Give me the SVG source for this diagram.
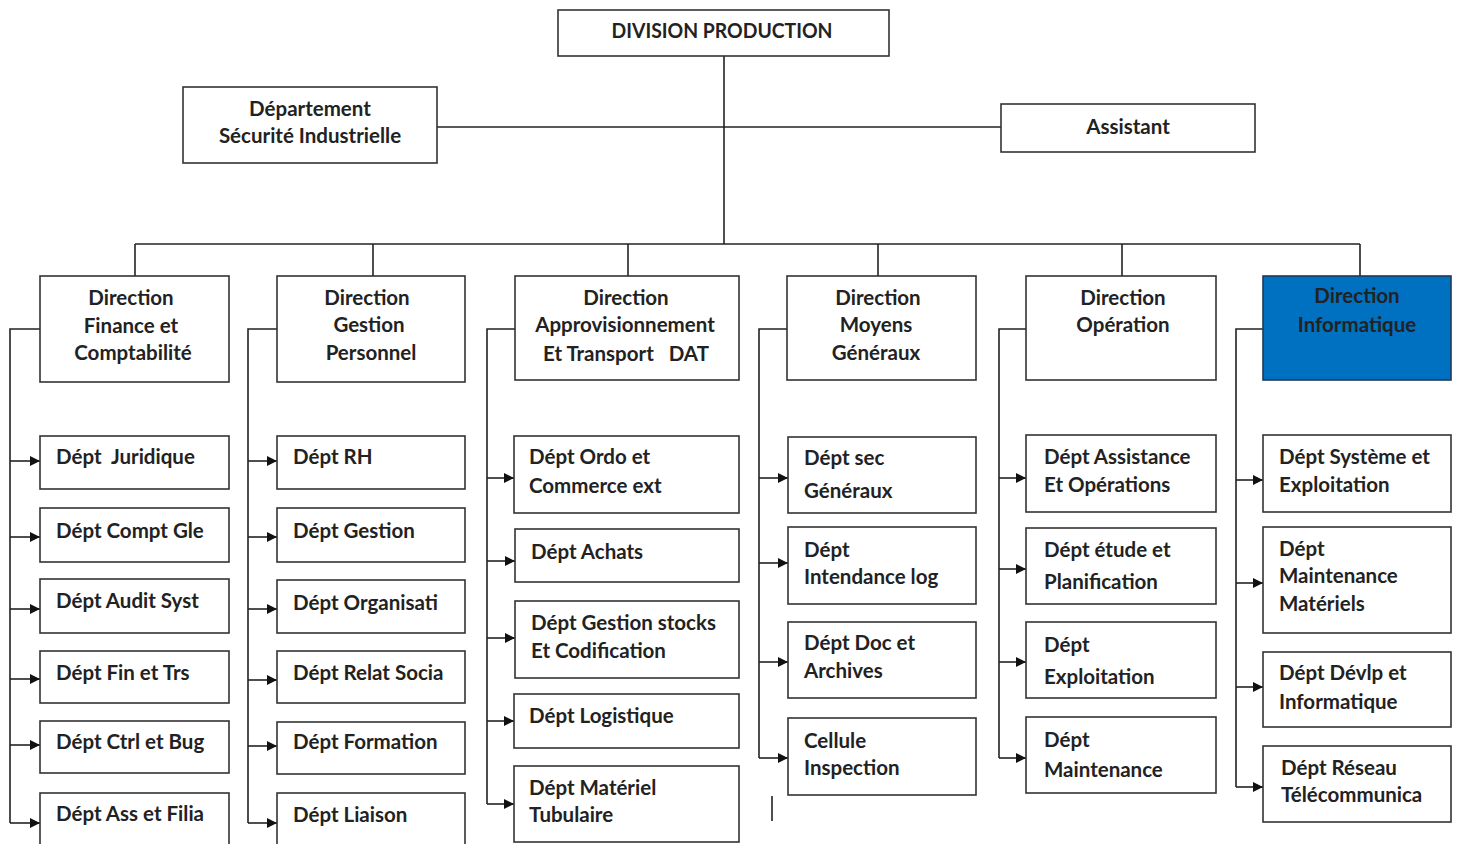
<svg xmlns="http://www.w3.org/2000/svg" width="1461" height="844" viewBox="0 0 1461 844">
  <style>
    .box { fill: #ffffff; stroke: #333333; stroke-width: 1.6; }
    .blue { fill: #0070c0; stroke: #1f3a5a; stroke-width: 1.6; }
    .ln { fill: none; stroke: #222222; stroke-width: 1.6; }
    .arr { fill: none; stroke: #222222; stroke-width: 1.6; marker-end: url(#tip); }
    text { font-family: Lato, "Liberation Sans", sans-serif; font-weight: bold; font-size: 20.5px; fill: #222222; white-space: pre; }
    .c { text-anchor: middle; }
  </style>
  <defs>
    <marker id="tip" viewBox="0 0 10 10" refX="10" refY="5" markerWidth="11" markerHeight="10" markerUnits="userSpaceOnUse" orient="auto">
      <path d="M0,0 L10,5 L0,10 Z" fill="#111111"/>
    </marker>
  </defs>

  <!-- connectors -->
  <g id="connectors">
    <line class="ln" x1="724" y1="56" x2="724" y2="244"/>
    <line class="ln" x1="437" y1="127" x2="1001" y2="127"/>
    <line class="ln" x1="135" y1="244" x2="1360" y2="244"/>
    <line class="ln" x1="135" y1="244" x2="135" y2="276"/>
    <line class="ln" x1="373" y1="244" x2="373" y2="276"/>
    <line class="ln" x1="628" y1="244" x2="628" y2="276"/>
    <line class="ln" x1="878" y1="244" x2="878" y2="276"/>
    <line class="ln" x1="1122" y1="244" x2="1122" y2="276"/>
    <line class="ln" x1="1360" y1="244" x2="1360" y2="276"/>

    <!-- column 1 -->
    <polyline class="ln" points="40,329 10,329 10,823"/>
    <line class="arr" x1="10" y1="461" x2="40" y2="461"/>
    <line class="arr" x1="10" y1="537" x2="40" y2="537"/>
    <line class="arr" x1="10" y1="609" x2="40" y2="609"/>
    <line class="arr" x1="10" y1="679" x2="40" y2="679"/>
    <line class="arr" x1="10" y1="745" x2="40" y2="745"/>
    <line class="arr" x1="10" y1="823" x2="40" y2="823"/>

    <!-- column 2 -->
    <polyline class="ln" points="277,329 248,329 248,823"/>
    <line class="arr" x1="248" y1="461" x2="277" y2="461"/>
    <line class="arr" x1="248" y1="537" x2="277" y2="537"/>
    <line class="arr" x1="248" y1="609" x2="277" y2="609"/>
    <line class="arr" x1="248" y1="680" x2="277" y2="680"/>
    <line class="arr" x1="248" y1="746" x2="277" y2="746"/>
    <line class="arr" x1="248" y1="823" x2="277" y2="823"/>

    <!-- column 3 -->
    <polyline class="ln" points="515,329 487,329 487,804"/>
    <line class="arr" x1="487" y1="478" x2="514" y2="478"/>
    <line class="arr" x1="487" y1="561" x2="515" y2="561"/>
    <line class="arr" x1="487" y1="638" x2="515" y2="638"/>
    <line class="arr" x1="487" y1="721" x2="514" y2="721"/>
    <line class="arr" x1="487" y1="804" x2="514" y2="804"/>

    <!-- column 4 -->
    <polyline class="ln" points="787,329 759,329 759,758"/>
    <line class="arr" x1="759" y1="478" x2="788" y2="478"/>
    <line class="arr" x1="759" y1="563" x2="788" y2="563"/>
    <line class="arr" x1="759" y1="662" x2="788" y2="662"/>
    <line class="arr" x1="759" y1="758" x2="788" y2="758"/>
    <line class="ln" x1="772" y1="796" x2="772" y2="821"/>

    <!-- column 5 -->
    <polyline class="ln" points="1026,329 999,329 999,758"/>
    <line class="arr" x1="999" y1="478" x2="1026" y2="478"/>
    <line class="arr" x1="999" y1="569" x2="1026" y2="569"/>
    <line class="arr" x1="999" y1="662" x2="1026" y2="662"/>
    <line class="arr" x1="999" y1="758" x2="1026" y2="758"/>

    <!-- column 6 -->
    <polyline class="ln" points="1263,329 1236,329 1236,787"/>
    <line class="arr" x1="1236" y1="480" x2="1263" y2="480"/>
    <line class="arr" x1="1236" y1="583" x2="1263" y2="583"/>
    <line class="arr" x1="1236" y1="687" x2="1263" y2="687"/>
    <line class="arr" x1="1236" y1="787" x2="1263" y2="787"/>
  </g>

  <!-- top level -->
  <g id="division">
    <rect class="box" x="558" y="10" width="331" height="46"/>
    <text class="c" x="722" y="38" textLength="221" lengthAdjust="spacingAndGlyphs">DIVISION PRODUCTION</text>
  </g>
  <g id="securite">
    <rect class="box" x="183" y="87" width="254" height="76"/>
    <text class="c" x="310" y="116">Département</text>
    <text class="c" x="310" y="143">Sécurité Industrielle</text>
  </g>
  <g id="assistant">
    <rect class="box" x="1001" y="104" width="254" height="48"/>
    <text class="c" x="1128" y="134">Assistant</text>
  </g>

  <!-- directions -->
  <g id="dir-finance">
    <rect class="box" x="40" y="276" width="189" height="106"/>
    <text class="c" x="131" y="305">Direction</text>
    <text class="c" x="131" y="333">Finance et</text>
    <text class="c" x="133" y="360">Comptabilité</text>
  </g>
  <g id="dir-personnel">
    <rect class="box" x="277" y="276" width="188" height="106"/>
    <text class="c" x="367" y="305">Direction</text>
    <text class="c" x="369" y="332">Gestion</text>
    <text class="c" x="371" y="360">Personnel</text>
  </g>
  <g id="dir-appro">
    <rect class="box" x="515" y="276" width="224" height="104"/>
    <text class="c" x="626" y="305">Direction</text>
    <text class="c" x="625" y="332">Approvisionnement</text>
    <text class="c" x="626" y="361">Et Transport   DAT</text>
  </g>
  <g id="dir-moyens">
    <rect class="box" x="787" y="276" width="189" height="104"/>
    <text class="c" x="878" y="305">Direction</text>
    <text class="c" x="876" y="332">Moyens</text>
    <text class="c" x="876" y="360">Généraux</text>
  </g>
  <g id="dir-operation">
    <rect class="box" x="1026" y="276" width="190" height="104"/>
    <text class="c" x="1123" y="305">Direction</text>
    <text class="c" x="1123" y="332">Opération</text>
  </g>
  <g id="dir-informatique">
    <rect class="blue" x="1263" y="276" width="188" height="104"/>
    <text class="c" x="1357" y="303">Direction</text>
    <text class="c" x="1357" y="332">Informatique</text>
  </g>

  <!-- finance departments -->
  <g id="fin-1"><rect class="box" x="40" y="436" width="189" height="53"/><text x="56" y="464">Dépt  Juridique</text></g>
  <g id="fin-2"><rect class="box" x="40" y="508" width="189" height="54"/><text x="56" y="538">Dépt Compt Gle</text></g>
  <g id="fin-3"><rect class="box" x="40" y="579" width="189" height="54"/><text x="56" y="608">Dépt Audit Syst</text></g>
  <g id="fin-4"><rect class="box" x="40" y="651" width="189" height="52"/><text x="56" y="680">Dépt Fin et Trs</text></g>
  <g id="fin-5"><rect class="box" x="40" y="721" width="189" height="52"/><text x="56" y="749">Dépt Ctrl et Bug</text></g>
  <g id="fin-6"><rect class="box" x="40" y="793" width="189" height="60"/><text x="56" y="821">Dépt Ass et Filia</text></g>

  <!-- personnel departments -->
  <g id="per-1"><rect class="box" x="277" y="436" width="188" height="53"/><text x="293" y="464">Dépt RH</text></g>
  <g id="per-2"><rect class="box" x="277" y="508" width="188" height="54"/><text x="293" y="538">Dépt Gestion</text></g>
  <g id="per-3"><rect class="box" x="277" y="580" width="188" height="53"/><text x="293" y="610">Dépt Organisati</text></g>
  <g id="per-4"><rect class="box" x="277" y="651" width="188" height="52"/><text x="293" y="680">Dépt Relat Socia</text></g>
  <g id="per-5"><rect class="box" x="277" y="722" width="188" height="52"/><text x="293" y="749">Dépt Formation</text></g>
  <g id="per-6"><rect class="box" x="277" y="793" width="188" height="60"/><text x="293" y="822">Dépt Liaison</text></g>

  <!-- approvisionnement departments -->
  <g id="app-1"><rect class="box" x="514" y="436" width="225" height="77"/><text x="529" y="464">Dépt Ordo et</text><text x="529" y="493">Commerce ext</text></g>
  <g id="app-2"><rect class="box" x="515" y="529" width="224" height="53"/><text x="531" y="559">Dépt Achats</text></g>
  <g id="app-3"><rect class="box" x="515" y="601" width="224" height="77"/><text x="531" y="630">Dépt Gestion stocks</text><text x="531" y="658">Et Codification</text></g>
  <g id="app-4"><rect class="box" x="514" y="694" width="225" height="54"/><text x="529" y="723">Dépt Logistique</text></g>
  <g id="app-5"><rect class="box" x="514" y="766" width="225" height="76"/><text x="529" y="795">Dépt Matériel</text><text x="529" y="822">Tubulaire</text></g>

  <!-- moyens generaux departments -->
  <g id="moy-1"><rect class="box" x="788" y="437" width="188" height="76"/><text x="804" y="465">Dépt sec</text><text x="804" y="498">Généraux</text></g>
  <g id="moy-2"><rect class="box" x="788" y="527" width="188" height="77"/><text x="804" y="557">Dépt</text><text x="804" y="584">Intendance log</text></g>
  <g id="moy-3"><rect class="box" x="788" y="622" width="188" height="76"/><text x="804" y="650">Dépt Doc et</text><text x="804" y="678">Archives</text></g>
  <g id="moy-4"><rect class="box" x="788" y="718" width="188" height="77"/><text x="804" y="748">Cellule</text><text x="804" y="775">Inspection</text></g>

  <!-- operation departments -->
  <g id="op-1"><rect class="box" x="1026" y="435" width="190" height="77"/><text x="1044" y="464">Dépt Assistance</text><text x="1044" y="492">Et Opérations</text></g>
  <g id="op-2"><rect class="box" x="1026" y="528" width="190" height="76"/><text x="1044" y="557">Dépt étude et</text><text x="1044" y="589">Planification</text></g>
  <g id="op-3"><rect class="box" x="1026" y="622" width="190" height="76"/><text x="1044" y="652">Dépt</text><text x="1044" y="684">Exploitation</text></g>
  <g id="op-4"><rect class="box" x="1026" y="717" width="190" height="76"/><text x="1044" y="747">Dépt</text><text x="1044" y="777">Maintenance</text></g>

  <!-- informatique departments -->
  <g id="inf-1"><rect class="box" x="1263" y="435" width="188" height="77"/><text x="1279" y="464">Dépt Système et</text><text x="1279" y="492">Exploitation</text></g>
  <g id="inf-2"><rect class="box" x="1263" y="527" width="188" height="106"/><text x="1279" y="556">Dépt</text><text x="1279" y="583">Maintenance</text><text x="1279" y="611">Matériels</text></g>
  <g id="inf-3"><rect class="box" x="1263" y="652" width="188" height="75"/><text x="1279" y="680">Dépt Dévlp et</text><text x="1279" y="709">Informatique</text></g>
  <g id="inf-4"><rect class="box" x="1263" y="746" width="188" height="76"/><text x="1281" y="775">Dépt Réseau</text><text x="1281" y="802">Télécommunica</text></g>
</svg>
